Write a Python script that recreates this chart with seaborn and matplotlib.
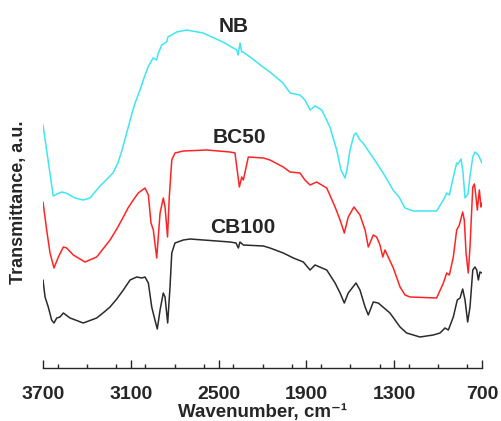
import numpy as np
import pandas as pd
import seaborn as sns
import matplotlib.pyplot as plt
from matplotlib.ticker import MultipleLocator

# FTIR spectra, values (transmittance in arbitrary units, offset per sample)
nb_wn = [3700, 3630, 3604, 3572, 3543, 3481, 3425, 3379, 3333, 3310, 3269, 3222, 3188, 3160,
         3128, 3099, 3071, 3037, 3010, 2982, 2948, 2934, 2923, 2914, 2889, 2866, 2855, 2846,
         2786, 2718, 2607, 2470, 2376, 2367, 2353, 2343, 2333, 2285, 2197, 2149, 2060, 2012,
         1944, 1910, 1875, 1841, 1795, 1739, 1693, 1664, 1636, 1623, 1602, 1575, 1561, 1534,
         1513, 1420, 1363, 1308, 1267, 1226, 1171, 1010, 964, 941, 923, 896, 873, 864, 843,
         830, 816, 796, 782, 763, 748, 725, 700]
nb_t = [24.3, 17.2, 17.4, 17.6, 17.5, 17.0, 16.8, 17.0, 17.8, 18.2, 18.8, 19.5, 20.5, 21.8,
        23.5, 25.1, 26.5, 27.8, 29.0, 30.1, 31.0, 30.9, 30.8, 31.4, 32.3, 32.5, 32.6, 33.1,
        33.6, 33.8, 33.5, 32.6, 31.8, 31.3, 32.5, 31.6, 31.6, 31.1, 30.1, 29.6, 28.5, 27.5,
        27.3, 26.8, 25.8, 26.2, 25.8, 24.1, 21.8, 19.8, 19.0, 19.8, 21.8, 23.3, 23.5, 22.8,
        22.5, 20.5, 19.2, 17.8, 17.1, 16.0, 15.7, 15.7, 16.8, 17.5, 17.3, 19.1, 20.5, 20.4,
        20.9, 19.6, 17.0, 17.4, 19.2, 21.1, 21.6, 21.3, 20.5]

bc_wn = [3700, 3675, 3652, 3625, 3595, 3561, 3538, 3493, 3413, 3333, 3290, 3242, 3196, 3151,
         3119, 3083, 3049, 3003, 2980, 2962, 2946, 2923, 2900, 2878, 2866, 2849, 2837, 2820,
         2798, 2741, 2581, 2422, 2388, 2358, 2342, 2331, 2297, 2194, 2149, 2058, 2012, 1944,
         1910, 1875, 1830, 1761, 1704, 1670, 1641, 1614, 1575, 1534, 1499, 1477, 1443, 1420,
         1397, 1378, 1363, 1306, 1260, 1226, 1192, 1010, 964, 941, 923, 896, 873, 855, 832,
         821, 809, 794, 782, 763, 752, 741, 732, 718, 707, 700]
bc_t = [16.6, 13.8, 11.5, 10.0, 11.1, 12.1, 12.0, 11.3, 10.6, 11.1, 11.9, 12.8, 13.9, 15.1,
        16.0, 16.8, 17.5, 18.0, 17.3, 14.5, 13.8, 11.0, 15.5, 17.0, 16.1, 13.1, 17.1, 20.8,
        21.5, 21.7, 21.8, 21.6, 21.5, 18.1, 19.1, 18.8, 21.1, 21.0, 20.8, 20.1, 19.6, 19.5,
        18.8, 18.3, 18.6, 18.0, 16.1, 14.8, 13.5, 15.1, 16.1, 15.3, 13.8, 12.1, 13.3, 13.1,
        12.3, 11.1, 11.8, 10.0, 8.1, 7.3, 7.1, 7.0, 8.5, 9.5, 9.3, 11.1, 13.8, 14.3, 15.6,
        14.8, 11.5, 9.5, 12.1, 18.1, 18.4, 17.1, 15.8, 17.8, 16.1, 16.5]

cb_wn = [3700, 3686, 3664, 3641, 3625, 3606, 3584, 3561, 3515, 3425, 3333, 3290, 3242, 3196,
         3151, 3105, 3060, 3025, 3003, 2980, 2957, 2935, 2919, 2900, 2878, 2866, 2848, 2832,
         2820, 2798, 2741, 2695, 2422, 2381, 2365, 2354, 2331, 2194, 2149, 2058, 1989, 1921,
         1875, 1841, 1761, 1704, 1670, 1641, 1614, 1561, 1534, 1499, 1477, 1443, 1409, 1329,
         1260, 1215, 1124, 1033, 987, 953, 930, 896, 869, 850, 832, 816, 798, 782, 763, 748,
         736, 725, 714, 700]
cb_t = [8.8, 7.1, 6.1, 4.8, 4.5, 5.0, 5.1, 5.5, 5.0, 4.5, 5.0, 5.5, 6.1, 6.9,
        7.8, 8.8, 9.1, 9.0, 9.1, 8.5, 6.1, 4.8, 3.9, 5.8, 7.5, 7.1, 4.5, 8.1,
        11.5, 12.5, 12.8, 12.9, 12.6, 12.5, 12.0, 12.6, 12.3, 12.2, 12.0, 11.5, 11.0, 10.6,
        9.8, 10.3, 9.8, 8.5, 7.5, 6.5, 7.5, 8.5, 7.8, 6.1, 5.3, 6.6, 6.5, 5.5,
        4.1, 3.5, 3.1, 3.3, 3.5, 4.0, 3.8, 5.1, 6.8, 7.0, 7.9, 6.8, 4.6, 6.1, 9.8, 10.1,
        9.8, 8.8, 9.6, 9.5]

samples = ['NB', 'BC50', 'CB100']
colors = ['#3fe6f2', '#ff2424', '#2b2b2b']
label_pos = [(2400, 33.6), (2355, 22.5), (2335, 13.5)]
xticks = [3700, 3100, 2500, 1900, 1300, 700]

df = pd.concat([
    pd.DataFrame({'wn': nb_wn, 't': nb_t, 'sample': 'NB'}),
    pd.DataFrame({'wn': bc_wn, 't': bc_t, 'sample': 'BC50'}),
    pd.DataFrame({'wn': cb_wn, 't': cb_t, 'sample': 'CB100'}),
])

sns.set_style('ticks')
plt.rcParams['font.family'] = ['Liberation Sans', 'DejaVu Sans']

fig = plt.figure(figsize=(5.02, 4.21), dpi=100)
ax = fig.add_axes([43 / 502, 53 / 421, 439 / 502, 358 / 421])

sns.lineplot(data=df, x='wn', y='t', hue='sample', palette=dict(zip(samples, colors)),
             estimator=None, sort=False, linewidth=1.1, legend=False, ax=ax)

for name, (x, y) in zip(samples, label_pos):
    ax.text(x, y, name, ha='center', va='baseline', fontsize=15, fontweight='bold')

ax.set_xlim(3700, 700)
ax.set_ylim(0, 35.8)
ax.set_xticks(xticks)
ax.xaxis.set_minor_locator(MultipleLocator(200))
ax.tick_params(axis='x', which='major', direction='in', length=6, width=1, pad=13,
               labelsize=14)
ax.tick_params(axis='x', which='minor', direction='in', length=3, width=1)
for lbl in ax.get_xticklabels():
    lbl.set_fontweight('bold')
ax.set_yticks([])
sns.despine(ax=ax, left=True)
ax.spines['bottom'].set_linewidth(1)

ax.set_xlabel('Wavenumber, cm⁻¹', fontsize=13.5, fontweight='bold', labelpad=1)
ax.set_ylabel('Transmittance, a.u.', fontsize=13, fontweight='bold')
ax.yaxis.set_label_coords(-0.036, 0.462)

fig.savefig('out.png', dpi=100)
